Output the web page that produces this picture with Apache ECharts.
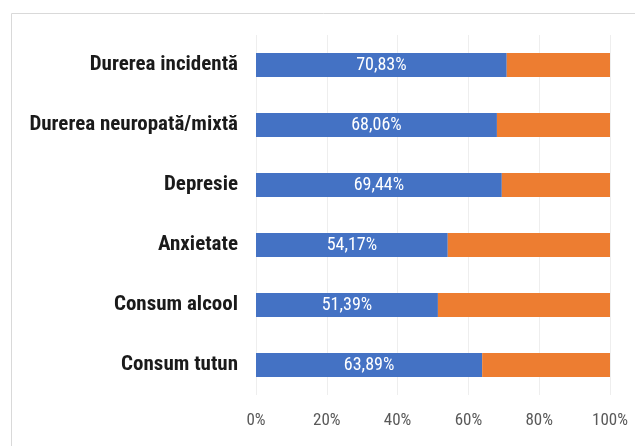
<!DOCTYPE html>
<html><head><meta charset="utf-8">
<script src="https://cdn.jsdelivr.net/npm/echarts@6/dist/echarts.min.js"></script>
<style>html,body{margin:0;padding:0;background:#fff}#c{width:635px;height:446px}</style>
</head><body><div id="c"></div>
<script>
var categories = ["Durerea incidentă", "Durerea neuropată/mixtă", "Depresie", "Anxietate", "Consum alcool", "Consum tutun"];
var blueValues = [70.83, 68.06, 69.44, 54.17, 51.39, 63.89];
var orangeValues = [29.17, 31.94, 30.56, 45.83, 48.61, 36.11];
var tickLabels = ["0%", "20%", "40%", "60%", "80%", "100%"];

var font = "'Liberation Sans Narrow','Arial Narrow','Roboto Condensed',sans-serif";
var chart = echarts.init(document.getElementById('c'));
chart.setOption({
  animation: false,
  graphic: [{type:'rect', shape:{x:11.5, y:13.5, width:640, height:450}, style:{fill:'none', stroke:'#d9d9d9', lineWidth:1}}],
  grid: {left: 256, right: 25, top: 35, bottom: 51},
  xAxis: {
    type: 'value', min: 0, max: 100, interval: 20,
    axisLine: {show: false}, axisTick: {show: false},
    splitLine: {lineStyle: {color: '#eeeeee'}},
    axisLabel: {color: '#595959', fontFamily: font, fontSize: 17, margin: 17,
      formatter: function(v){ return tickLabels[Math.round(v/20)]; }}
  },
  yAxis: {
    type: 'category', data: categories, inverse: true,
    axisLine: {show: false}, axisTick: {show: false},
    axisLabel: {color: '#1a1a1a', fontFamily: font, fontSize: 21, fontWeight: 'bold', margin: 18}
  },
  series: [
    {type: 'bar', stack: 't', data: blueValues, barWidth: 24,
      itemStyle: {color: '#4472C4'},
      label: {show: true, position: 'inside', color: '#fff', fontFamily: font, fontSize: 18,
        formatter: function(p){ return p.value.toFixed(2).replace('.', ',') + '%'; }}},
    {type: 'bar', stack: 't', data: orangeValues, barWidth: 24,
      itemStyle: {color: '#ED7D31'}}
  ]
});
</script></body></html>
